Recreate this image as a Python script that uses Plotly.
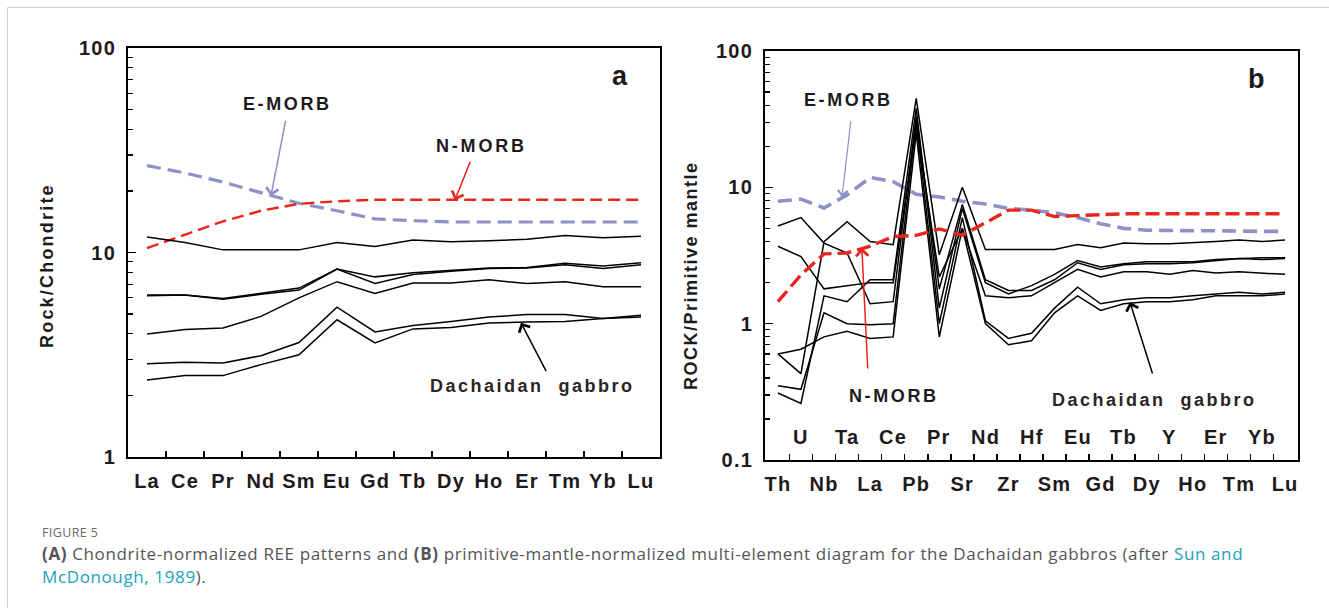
import plotly.graph_objects as go

W, H = 1329, 608

# ---------------- data: panel (a) chondrite-normalized REE ----------------
ree = ["La", "Ce", "Pr", "Nd", "Sm", "Eu", "Gd", "Tb", "Dy", "Ho", "Er", "Tm", "Yb", "Lu"]
a_emorb = [26.6, 24.5, 22.1, 19.7, 17.4, 16.0, 14.6, 14.3, 14.1, 14.1, 14.1, 14.1, 14.1, 14.1]
a_nmorb = [10.5, 12.2, 14.2, 16.0, 17.3, 17.8, 18.1, 18.1, 18.1, 18.0, 18.1, 18.1, 18.1, 18.1]
a_g1 = [11.9, 11.2, 10.3, 10.3, 10.3, 11.2, 10.7, 11.5, 11.3, 11.4, 11.6, 12.1, 11.8, 12.0]
a_g2 = [6.2, 6.2, 5.95, 6.3, 6.7, 8.3, 7.6, 7.95, 8.15, 8.4, 8.45, 8.85, 8.6, 8.9]
a_g3 = [6.15, 6.2, 5.9, 6.25, 6.55, 8.3, 7.05, 7.8, 8.1, 8.35, 8.4, 8.7, 8.35, 8.7]
a_g4 = [4.0, 4.2, 4.27, 4.87, 6.0, 7.2, 6.3, 7.1, 7.1, 7.35, 7.05, 7.2, 6.8, 6.8]
a_g5 = [2.86, 2.91, 2.88, 3.13, 3.63, 5.4, 4.09, 4.4, 4.6, 4.84, 4.97, 4.98, 4.75, 4.93]
a_g6 = [2.38, 2.5, 2.5, 2.83, 3.16, 4.69, 3.61, 4.23, 4.3, 4.52, 4.57, 4.6, 4.75, 4.84]

# ---------------- data: panel (b) primitive-mantle-normalized ----------------
elems = ["Th", "U", "Nb", "Ta", "La", "Ce", "Pb", "Pr", "Sr", "Nd", "Zr", "Hf",
         "Sm", "Eu", "Gd", "Tb", "Dy", "Y", "Ho", "Er", "Tm", "Yb", "Lu"]
b_emorb = [7.9, 8.2, 7.05, 8.8, 11.8, 11.0, 8.9, 8.5, 7.9, 7.55, 7.0, 6.8,
           6.5, 6.0, 5.4, 5.0, 4.85, 4.8, 4.8, 4.8, 4.75, 4.75, 4.75]
b_nmorb = [1.45, 2.28, 3.25, 3.3, 3.7, 4.35, 4.45, 4.95, 4.45, 5.5, 6.8, 6.8,
           6.1, 6.2, 6.3, 6.4, 6.4, 6.4, 6.4, 6.4, 6.4, 6.4, 6.4]
b_g1 = [5.2, 6.0, 3.9, 3.3, 1.4, 1.45, 33, 1.8, 7.5, 2.1, 1.75, 1.75,
        2.1, 2.8, 2.5, 2.7, 2.75, 2.75, 2.8, 2.9, 3.0, 2.95, 3.0]
b_g2 = [3.7, 3.1, 1.8, 1.9, 2.0, 2.0, 28, 2.2, 5.0, 1.6, 1.55, 1.6,
        2.0, 2.5, 2.2, 2.4, 2.4, 2.3, 2.45, 2.35, 2.4, 2.35, 2.3]
b_g3 = [0.6, 0.43, 4.0, 5.6, 4.0, 3.8, 45, 3.2, 10, 3.5, 3.5, 3.5,
        3.5, 3.8, 3.6, 3.9, 3.85, 3.85, 3.9, 4.0, 4.1, 4.0, 4.1]
b_g4 = [0.6, 0.65, 0.8, 0.88, 0.78, 0.8, 25, 0.8, 5.0, 1.0, 0.7, 0.75,
        1.2, 1.6, 1.25, 1.4, 1.45, 1.45, 1.5, 1.6, 1.6, 1.6, 1.65]
b_g5 = [0.35, 0.33, 1.2, 1.0, 0.98, 1.0, 30, 1.0, 6.0, 1.05, 0.78, 0.85,
        1.3, 1.85, 1.4, 1.5, 1.55, 1.55, 1.6, 1.65, 1.7, 1.65, 1.7]
b_g6 = [0.31, 0.26, 1.6, 1.45, 2.1, 2.1, 38, 1.3, 7.0, 2.0, 1.65, 1.9,
        2.3, 2.9, 2.6, 2.75, 2.85, 2.85, 2.85, 2.95, 3.0, 3.05, 3.05]

PURPLE = "#8e90c6"
RED = "#e8251f"
INK = "#1e1a1b"
BOLD = "Liberation Sans, Arial, sans-serif"


def px(x):
    return x / W


def py(y):
    return 1 - y / H


def sp(s, n):
    return f"<span style='letter-spacing:{n}px'>{s}</span>"


fig = go.Figure()
xa = list(range(len(ree)))
xb = list(range(len(elems)))

fig.add_trace(go.Scatter(x=xa, y=a_emorb, mode="lines", line=dict(color=PURPLE, width=3.2, dash="14px,7px"),
                         xaxis="x", yaxis="y"))
fig.add_trace(go.Scatter(x=xa, y=a_nmorb, mode="lines", line=dict(color=RED, width=2.4, dash="12px,6px"),
                         xaxis="x", yaxis="y"))
for g in [a_g1, a_g2, a_g3, a_g4, a_g5, a_g6]:
    fig.add_trace(go.Scatter(x=xa, y=g, mode="lines", line=dict(color="black", width=1.5),
                             xaxis="x", yaxis="y"))

fig.add_trace(go.Scatter(x=xb, y=b_emorb, mode="lines", line=dict(color=PURPLE, width=3.6, dash="14px,7px"),
                         xaxis="x2", yaxis="y2"))
for g in [b_g1, b_g2, b_g3, b_g4, b_g5, b_g6]:
    fig.add_trace(go.Scatter(x=xb, y=g, mode="lines", line=dict(color="black", width=1.5),
                             xaxis="x2", yaxis="y2"))
fig.add_trace(go.Scatter(x=xb, y=b_nmorb, mode="lines", line=dict(color=RED, width=3.4, dash="14px,6px"),
                         xaxis="x2", yaxis="y2"))

tickfont = dict(family=BOLD, size=20, color=INK, weight="bold")
TS = 1.2
frame = dict(showline=True, mirror=True, linewidth=2, linecolor="black", showgrid=False, zeroline=False,
             automargin=False)

fig.update_layout(
    width=W, height=H, margin=dict(l=0, r=0, t=0, b=0, autoexpand=False),
    paper_bgcolor="white", plot_bgcolor="white", showlegend=False, hovermode=False,
    xaxis=dict(domain=[px(128), px(660)], range=[-0.5, 13.5], anchor="y",
               tickmode="array", tickvals=xa, ticktext=[sp(t, TS) for t in ree], ticks="", tickfont=tickfont,
               ticklabelstandoff=5,
               minor=dict(tickmode="array", tickvals=[i + 0.5 for i in range(13)], ticks="inside",
                          ticklen=6, tickwidth=1.5, tickcolor="black", showgrid=False),
               **frame),
    yaxis=dict(domain=[py(457), py(48)], type="log", range=[0, 2], anchor="x",
               tickmode="array", tickvals=[1, 10, 100], ticktext=[sp(t, TS) for t in ["1", "10", "100"]],
               ticks="inside", ticklen=8, tickwidth=1.5, tickcolor="black", tickfont=tickfont,
               ticklabelstandoff=6,
               minor=dict(tickmode="array", tickvals=[2, 3, 4, 5, 6, 7, 8, 9, 20, 30, 40, 50, 60, 70, 80, 90],
                          ticks="inside", ticklen=5, tickwidth=1.2, tickcolor="black", showgrid=False),
               **frame),
    xaxis2=dict(domain=[px(765), px(1298)], range=[-0.56, 22.56], anchor="y2",
                tickmode="array", tickvals=xb[::2], ticktext=[sp(t, TS) for t in elems[::2]], ticks="",
                tickfont=tickfont, ticklabelstandoff=5,
                minor=dict(tickmode="array", tickvals=[i + 0.5 for i in range(22)], ticks="inside",
                           ticklen=6, tickwidth=1.5, tickcolor="black", showgrid=False),
                **frame),
    yaxis2=dict(domain=[py(460), py(51)], type="log", range=[-1, 2], anchor="x2",
                tickmode="array", tickvals=[0.1, 1, 10, 100],
                ticktext=[sp(t, TS) for t in ["0.1", "1", "10", "100"]],
                ticks="inside", ticklen=8, tickwidth=1.5, tickcolor="black", tickfont=tickfont,
                ticklabelstandoff=6,
                minor=dict(tickmode="array",
                           tickvals=[0.2, 0.3, 0.4, 0.5, 0.6, 0.7, 0.8, 0.9, 2, 3, 4, 5, 6, 7, 8, 9,
                                     20, 30, 40, 50, 60, 70, 80, 90],
                           ticks="inside", ticklen=5, tickwidth=1.2, tickcolor="black", showgrid=False),
                **frame),
)

ann = []


def txt(x, y, text, font, xanchor="center", angle=0):
    return dict(x=px(x), y=py(y), xref="paper", yref="paper", text=text, showarrow=False,
                xanchor=xanchor, yanchor="middle", textangle=angle, font=font)


# upper row of element labels inside panel b
for i in range(1, len(elems), 2):
    ann.append(dict(x=i, y=py(437), xref="x2", yref="paper", text=sp(elems[i], TS), showarrow=False,
                    xanchor="center", yanchor="middle", font=tickfont))

ax_font = dict(family=BOLD, size=18, color=INK, weight="bold")
ann.append(txt(47, 266, sp("Rock/Chondrite", 2.2), ax_font, angle=-90))
ann.append(txt(691, 276, sp("ROCK/Primitive mantle", 1.5), ax_font, angle=-90))

letter = dict(family=BOLD, size=27, color=INK, weight="bold")
ann.append(txt(620, 76, "a", letter))
ann.append(txt(1256, 79, "b", letter))

lbl = dict(family=BOLD, size=18, color=INK, weight="bold")
lbl2 = dict(family=BOLD, size=18, color="#2a2526", weight="bold")


def arrow(x, y, xr, yr, ax, ay, color, width):
    return dict(x=x, y=y, xref=xr, yref=yr, text="", showarrow=True, ax=ax, ay=ay,
                arrowcolor=color, arrowwidth=width, arrowhead=4, arrowsize=1.6)


# panel a labels + arrows
ann.append(txt(287, 104, sp("E-MORB", 2.6), lbl))
ann.append(arrow(3.26, 1.275, "x", "y", 15, -77, PURPLE, 1.5))
ann.append(txt(481, 146, sp("N-MORB", 2.8), lbl))
ann.append(arrow(8.1, 1.255, "x", "y", 16, -40, RED, 1.5))
ann.append(txt(532, 386, sp("Dachaidan  gabbro", 2.5), lbl2))
ann.append(arrow(9.84, 0.657, "x", "y", 26, 50, "black", 1.5))
# panel b labels + arrows
ann.append(txt(848, 100, sp("E-MORB", 2.6), lbl))
ann.append(arrow(2.78, 0.93, "x2", "y2", 9, -77, PURPLE, 1.2))
ann.append(txt(894, 396, sp("N-MORB", 2.6), lbl))
ann.append(arrow(3.64, 0.555, "x2", "y2", 6, 122, RED, 1.5))
ann.append(txt(1154, 400, sp("Dachaidan  gabbro", 2.5), lbl2))
ann.append(arrow(15.27, 0.159, "x2", "y2", 23, 73, "black", 1.5))

# caption
CAP = "Open Sans, Noto Sans, sans-serif"
TEAL = "#1ba3b8"
SP = "letter-spacing:0.62px"
ann.append(txt(40, 532, f"<span style='letter-spacing:0.4px'>FIGURE 5</span>",
               dict(family=CAP, size=12.5, color="#6a6a6a"), xanchor="left"))
ann.append(txt(40, 553,
               f"<span style='{SP}'><b>(A)</b> Chondrite-normalized REE patterns and <b>(B)</b> "
               "primitive-mantle-normalized multi-element diagram for the Dachaidan gabbros (after </span>"
               f"<span style='{SP};color:{TEAL}'>Sun and</span>",
               dict(family=CAP, size=17, color="#555555"), xanchor="left"))
ann.append(txt(40, 576, f"<span style='{SP};color:{TEAL}'>McDonough, 1989</span><span style='{SP}'>).</span>",
               dict(family=CAP, size=17, color="#555555"), xanchor="left"))

fig.update_layout(annotations=ann)
fig.update_layout(shapes=[dict(type="rect", xref="paper", yref="paper", x0=px(7.5), x1=px(1345),
                               y0=py(7.5), y1=py(625), line=dict(color="#cfcfcf", width=1))])

fig.write_html("out.html", config={"displayModeBar": False, "staticPlot": True},
               post_script="document.body.style.margin='0';document.body.style.overflow='hidden';")
